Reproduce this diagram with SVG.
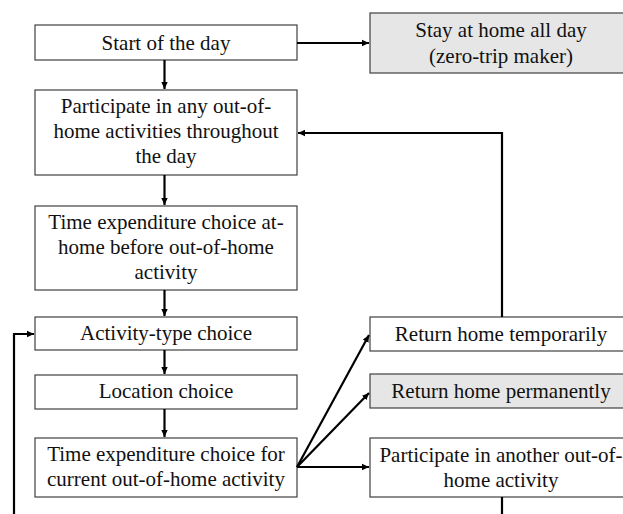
<svg xmlns="http://www.w3.org/2000/svg" width="623" height="514" viewBox="0 0 623 514">
  <style>
    .box { fill: #ffffff; stroke: #404040; stroke-width: 1.2; }
    .alt { fill: #e6e6e6; }
    .lbl { font-family: "Liberation Serif", "Times New Roman", serif; font-size: 21px; fill: #111; text-anchor: middle; }
    .conn { fill: none; stroke: #000; stroke-width: 2.2; }
  </style>
  <defs>
    <marker id="arrow" markerWidth="8" markerHeight="8" refX="7" refY="4" orient="auto" markerUnits="userSpaceOnUse">
      <path d="M0,0.8 L7,4 L0,7.2 Z" fill="#000"/>
    </marker>
  </defs>
  <rect width="623" height="514" fill="#ffffff"/>

  <g id="start">
    <rect class="box" x="35" y="25" width="262" height="35"/>
    <text class="lbl" x="166" y="50">Start of the day</text>
  </g>
  <g id="stay-home">
    <rect class="box alt" x="370" y="13" width="263" height="60"/>
    <text class="lbl" x="501" y="37">Stay at home all day</text>
    <text class="lbl" x="501" y="63">(zero-trip maker)</text>
  </g>
  <g id="participate">
    <rect class="box" x="35" y="90" width="262" height="85"/>
    <text class="lbl" x="166" y="113">Participate in any out-of-</text>
    <text class="lbl" x="166" y="138">home activities throughout</text>
    <text class="lbl" x="166" y="163">the day</text>
  </g>
  <g id="time-at-home">
    <rect class="box" x="35" y="206" width="262" height="84"/>
    <text class="lbl" x="166" y="229">Time expenditure choice at-</text>
    <text class="lbl" x="166" y="254">home before out-of-home</text>
    <text class="lbl" x="166" y="279">activity</text>
  </g>
  <g id="activity-type">
    <rect class="box" x="35" y="317" width="262" height="33"/>
    <text class="lbl" x="166" y="340">Activity-type choice</text>
  </g>
  <g id="location">
    <rect class="box" x="35" y="375" width="262" height="34"/>
    <text class="lbl" x="166" y="398">Location choice</text>
  </g>
  <g id="time-current">
    <rect class="box" x="35" y="438" width="262" height="59"/>
    <text class="lbl" x="166" y="461">Time expenditure choice for</text>
    <text class="lbl" x="166" y="486">current out-of-home activity</text>
  </g>
  <g id="return-temp">
    <rect class="box" x="370" y="317" width="263" height="34"/>
    <text class="lbl" x="501" y="341">Return home temporarily</text>
  </g>
  <g id="return-perm">
    <rect class="box alt" x="370" y="374" width="263" height="34"/>
    <text class="lbl" x="501" y="398">Return home permanently</text>
  </g>
  <g id="another">
    <rect class="box" x="370" y="438" width="263" height="59"/>
    <text class="lbl" x="501" y="462">Participate in another out-of-</text>
    <text class="lbl" x="501" y="487">home activity</text>
  </g>

  <g id="connectors">
    <line class="conn" x1="297" y1="43" x2="369" y2="43" marker-end="url(#arrow)"/>
    <line class="conn" x1="164.5" y1="60" x2="164.5" y2="89" marker-end="url(#arrow)"/>
    <line class="conn" x1="164.5" y1="175" x2="164.5" y2="205" marker-end="url(#arrow)"/>
    <line class="conn" x1="164.5" y1="290" x2="164.5" y2="316" marker-end="url(#arrow)"/>
    <line class="conn" x1="164.5" y1="350" x2="164.5" y2="374" marker-end="url(#arrow)"/>
    <line class="conn" x1="164.5" y1="409" x2="164.5" y2="437" marker-end="url(#arrow)"/>
    <polyline class="conn" points="502,317 502,133 298,133" marker-end="url(#arrow)"/>
    <polyline class="conn" points="14,514 14,334 34,334" marker-end="url(#arrow)"/>
    <line class="conn" x1="297" y1="467" x2="369" y2="335" marker-end="url(#arrow)"/>
    <line class="conn" x1="297" y1="467" x2="369" y2="393" marker-end="url(#arrow)"/>
    <line class="conn" x1="297" y1="467" x2="369" y2="467" marker-end="url(#arrow)"/>
    <line class="conn" x1="502" y1="497" x2="502" y2="514"/>
  </g>
</svg>
